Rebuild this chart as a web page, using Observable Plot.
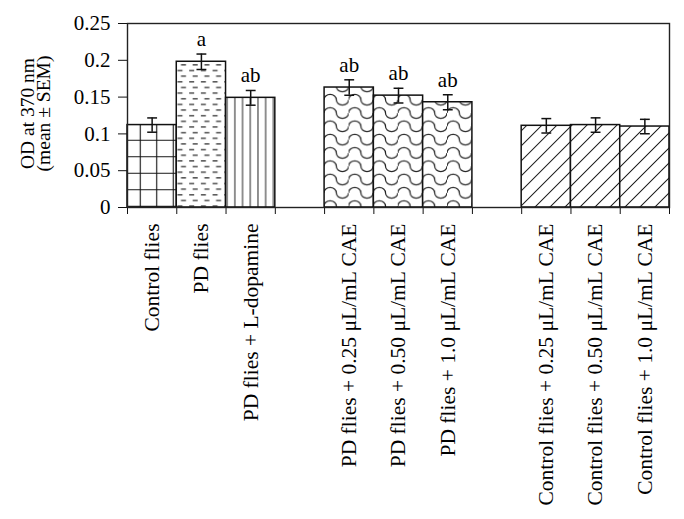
<!DOCTYPE html>
<html><head><meta charset="utf-8">
<script src="https://cdn.jsdelivr.net/npm/d3@7"></script>
<script src="https://cdn.jsdelivr.net/npm/@observablehq/plot@0.6"></script>
<style>
html,body{margin:0;padding:0;background:#fff;}
#chart svg{display:block;}
</style></head><body><div id="chart"></div>
<script>
// ---- data ----
const labels = [
  "Control flies",
  "PD flies",
  "PD flies + L-dopamine",
  "PD flies + 0.25 μL/mL CAE",
  "PD flies + 0.50 μL/mL CAE",
  "PD flies + 1.0 μL/mL CAE",
  "Control flies + 0.25 μL/mL CAE",
  "Control flies + 0.50 μL/mL CAE",
  "Control flies + 1.0 μL/mL CAE"
];
const groups = [0, 0, 0, 1, 1, 1, 2, 2, 2];
const withinGroup = [0, 1, 2, 0, 1, 2, 0, 1, 2];
const means = [0.112, 0.198, 0.149, 0.163, 0.152, 0.143, 0.111, 0.112, 0.110];
const sems = [0.0097, 0.0105, 0.0100, 0.0105, 0.0100, 0.0102, 0.0098, 0.0098, 0.0098];
const letters = ["", "a", "ab", "ab", "ab", "ab", "", "", ""];
const patterns = ["grid", "dash", "vline", "wave", "wave", "wave", "hatch", "hatch", "hatch"];
const yTicks = [0, 0.05, 0.1, 0.15, 0.2, 0.25];
const yTickLabels = ["0", "0.05", "0.1", "0.15", "0.2", "0.25"];
const yTitleLines = ["OD at 370 nm", "(mean ± SEM)"];

const slotsPerGroup = 4; // 3 bars + 1 gap
const data = labels.map((label, i) => ({
  label,
  slot: groups[i] * slotsPerGroup + withinGroup[i],
  mean: means[i],
  sem: sems[i],
  letter: letters[i],
  pattern: patterns[i]
}));
const nSlots = (d3.max(groups) + 1) * slotsPerGroup - 1;

const font = '"Liberation Serif","Times New Roman",Times,serif';
const patternNames = Array.from(new Set(patterns));

const chart = Plot.plot({
  width: 684,
  height: 519,
  marginLeft: 127,
  marginRight: 15,
  marginTop: 23,
  marginBottom: 312,
  style: {fontFamily: font, fontSize: "20px", color: "#000", background: "#fff"},
  x: {domain: [0, nSlots], axis: null},
  y: {domain: [0, 0.25], axis: null},
  marks: [
    ...patternNames.map(p => Plot.rectY(data.filter(d => d.pattern === p), {
      x1: d => d.slot, x2: d => d.slot + 1, y1: 0, y2: "mean",
      fill: `url(#pat-${p})`, stroke: "#111", strokeWidth: 1.5
    })),
    Plot.ruleX(data, {x: d => d.slot + 0.5, y1: d => d.mean - d.sem, y2: d => d.mean + d.sem, stroke: "#111", strokeWidth: 1.5}),
    Plot.link(data, {x1: d => d.slot + 0.4, x2: d => d.slot + 0.6, y1: d => d.mean + d.sem, y2: d => d.mean + d.sem, stroke: "#111", strokeWidth: 1.5}),
    Plot.link(data, {x1: d => d.slot + 0.4, x2: d => d.slot + 0.6, y1: d => d.mean - d.sem, y2: d => d.mean - d.sem, stroke: "#111", strokeWidth: 1.5}),
    Plot.text(data, {x: d => d.slot + 0.5, y: d => d.mean + d.sem, text: "letter", lineAnchor: "bottom", dy: -8, fontSize: 21, fill: "#000"}),
    Plot.text(data, {x: d => d.slot + 0.5, frameAnchor: "bottom", dy: 16, rotate: -90, textAnchor: "end", lineAnchor: "middle", text: "label", fontSize: 21.5, fill: "#000"}),
    Plot.axisY({ticks: yTicks, tickFormat: d => yTickLabels[yTicks.indexOf(d)], tickSize: 9, tickPadding: 8, label: null, fontSize: 21, stroke: "#111"}),
    Plot.axisX({ticks: d3.range(nSlots + 1), tickFormat: () => "", tickSize: 7, label: null, stroke: "#111"}),
    Plot.text([yTitleLines[0]], {frameAnchor: "left", dx: -100, dy: -2, rotate: -90, textAnchor: "middle", lineAnchor: "middle", text: d => d, fontSize: 19.5, fill: "#000"}),
    Plot.text([yTitleLines[1]], {frameAnchor: "left", dx: -84, dy: -2, rotate: -90, textAnchor: "middle", lineAnchor: "middle", text: d => d, fontSize: 19.5, fill: "#000"}),
    Plot.frame({stroke: "#222", strokeWidth: 1.4})
  ]
});

const defs = document.createElementNS("http://www.w3.org/2000/svg", "defs");
defs.innerHTML = `
<pattern id="pat-grid" patternUnits="userSpaceOnUse" width="16.5" height="16.5">
  <rect width="16.5" height="16.5" fill="#fff"/>
  <path d="M0,8.25H16.5M8.25,0V16.5" stroke="#111" stroke-width="1.1" fill="none"/>
</pattern>
<pattern id="pat-dash" patternUnits="userSpaceOnUse" width="11.7" height="11.3">
  <rect width="11.7" height="11.3" fill="#fff"/>
  <path d="M2,2.8H7M5.5,8.45H10.5" stroke="#222" stroke-width="1.2" fill="none"/>
</pattern>
<pattern id="pat-vline" patternUnits="userSpaceOnUse" width="7.7" height="10">
  <rect width="7.7" height="10" fill="#fff"/>
  <path d="M3.85,0V10" stroke="#222" stroke-width="1" fill="none"/>
</pattern>
<pattern id="pat-wave" patternUnits="userSpaceOnUse" width="24.6" height="13.3" x="324" y="0">
  <rect width="24.6" height="13.3" fill="#fff"/>
  <path d="M0,6.65A6.15,5.3 0 0 1 12.3,6.65A6.15,5.3 0 0 0 24.6,6.65" stroke="#222" stroke-width="1.2" fill="none"/>
</pattern>
<pattern id="pat-hatch" patternUnits="userSpaceOnUse" width="10.6" height="10.6" patternTransform="rotate(45)">
  <rect width="10.6" height="10.6" fill="#fff"/>
  <path d="M5.3,0V10.6" stroke="#222" stroke-width="1" fill="none"/>
</pattern>`;
chart.insertBefore(defs, chart.firstChild);
document.getElementById("chart").appendChild(chart);
</script>
</body></html>
